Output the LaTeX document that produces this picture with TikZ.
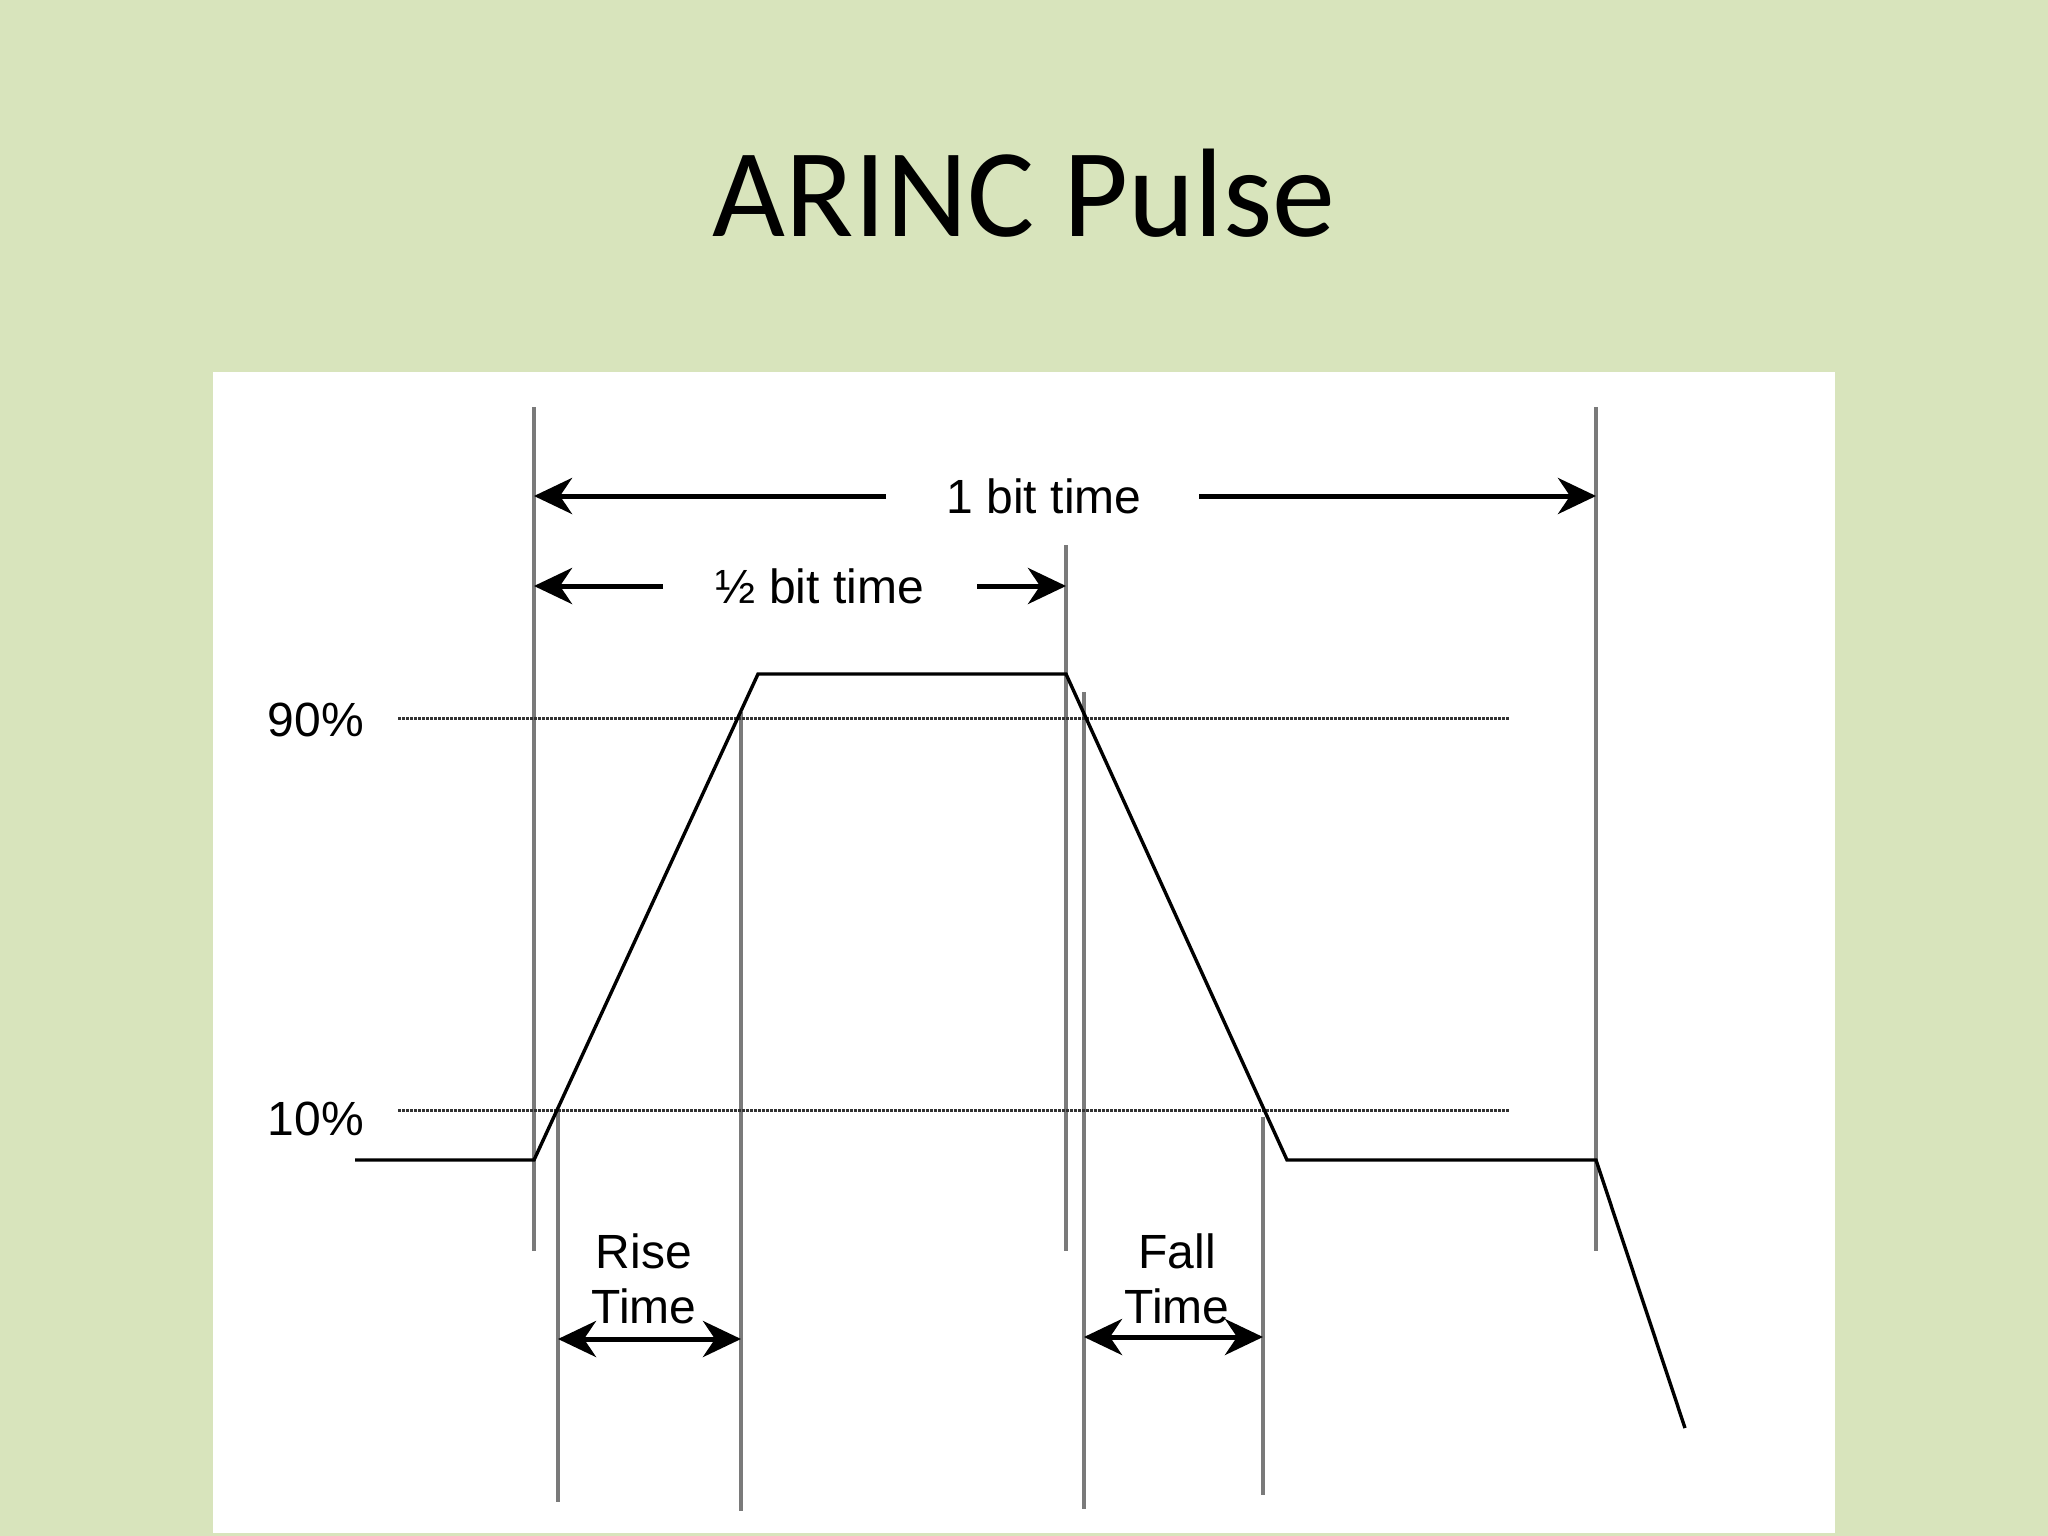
\documentclass[tikz,border=0pt]{standalone}
\usepackage{fontspec}
\setmainfont{Liberation Sans}
\newfontfamily\titlefont{Carlito}
\usetikzlibrary{arrows.meta}
\definecolor{slidebg}{HTML}{D8E4BC}
\definecolor{guidegray}{HTML}{7A7A7A}
\tikzset{
  guide/.style={draw=guidegray, line width=3.6pt},
  wave/.style={draw=black, line width=3.4pt, line join=miter},
  level/.style={draw=black!80, line width=3pt, dash pattern=on 2.5pt off 1.5pt},
  dimarrow/.style={draw=black, line width=5pt, -{Stealth[length=38pt,width=36pt,inset=12pt]}},
  twoarrow/.style={draw=black, line width=5pt, {Stealth[length=38pt,width=36pt,inset=12pt]}-{Stealth[length=38pt,width=36pt,inset=12pt]}},
  lbl/.style={font=\fontsize{48}{55}\selectfont, inner sep=0pt, align=center},
}
\begin{document}
\begin{tikzpicture}[x=1pt,y=-1pt]
\useasboundingbox (0,0) rectangle (2048,1536);
\fill[slidebg] (0,0) rectangle (2048,1536);
\fill[white] (213,372) rectangle (1835,1533);
\node[font=\titlefont\fontsize{126}{130}\selectfont, inner sep=0pt] (title) at (1024,193) {ARINC Pulse};

% guide lines
\coordinate (g1t) at (534,407);  \coordinate (g1b) at (534,1251);
\coordinate (g2t) at (1066,545); \coordinate (g2b) at (1066,1251);
\coordinate (g3t) at (1596,407); \coordinate (g3b) at (1596,1251);
\coordinate (r1t) at (558,1110); \coordinate (r1b) at (558,1502);
\coordinate (r2t) at (741,712);  \coordinate (r2b) at (741,1511);
\coordinate (f1t) at (1084,692); \coordinate (f1b) at (1084,1509);
\coordinate (f2t) at (1263,1117);\coordinate (f2b) at (1263,1495);
\draw[guide] (g1t) -- (g1b);
\draw[guide] (g2t) -- (g2b);
\draw[guide] (g3t) -- (g3b);
\draw[guide] (r1t) -- (r1b);
\draw[guide] (r2t) -- (r2b);
\draw[guide] (f1t) -- (f1b);
\draw[guide] (f2t) -- (f2b);

% level lines
\coordinate (l90a) at (398,718); \coordinate (l90b) at (1509,718);
\coordinate (l10a) at (398,1110); \coordinate (l10b) at (1509,1110);
\draw[level] (l90a) -- (l90b);
\draw[level] (l10a) -- (l10b);
\node[lbl, anchor=east] (p90) at (364,720) {90\%};
\node[lbl, anchor=east] (p10) at (364,1119) {10\%};

% waveform
\coordinate (w0) at (355,1160);
\coordinate (w1) at (534,1160);
\coordinate (w2) at (758,674);
\coordinate (w3) at (1066,674);
\coordinate (w4) at (1287,1160);
\coordinate (w5) at (1596,1160);
\coordinate (w6) at (1685,1428);
\draw[wave] (w0) -- (w1) -- (w2) -- (w3) -- (w4) -- (w5) -- (w6);

% 1 bit time
\node[lbl] (onebit) at (1044,496) {1 bit time};
\coordinate (ob1) at (886,496); \coordinate (ob1e) at (534,496);
\coordinate (ob2) at (1199,496); \coordinate (ob2e) at (1596,496);
\draw[dimarrow] (ob1) -- (ob1e);
\draw[dimarrow] (ob2) -- (ob2e);

% half bit time
\node[lbl] (halfbit) at (820,586) {½ bit time};
\coordinate (hb1) at (663,586); \coordinate (hb1e) at (534,586);
\coordinate (hb2) at (977,586); \coordinate (hb2e) at (1066,586);
\draw[dimarrow] (hb1) -- (hb1e);
\draw[dimarrow] (hb2) -- (hb2e);

% rise / fall time
\node[lbl, anchor=base] (rise) at (644,1323) {Rise\\Time};
\node[lbl, anchor=base] (fall) at (1177,1323) {Fall\\Time};
\coordinate (ra) at (558,1339); \coordinate (rb) at (741,1339);
\coordinate (fa) at (1084,1337); \coordinate (fb) at (1263,1337);
\draw[twoarrow] (ra) -- (rb);
\draw[twoarrow] (fa) -- (fb);
\end{tikzpicture}
\end{document}
